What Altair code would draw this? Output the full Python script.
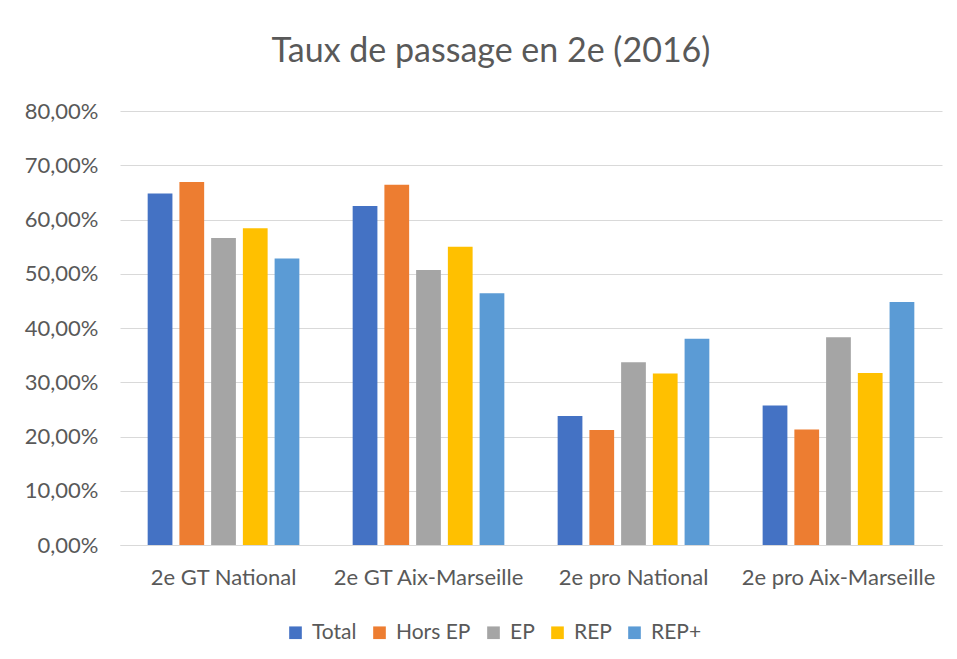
import altair as alt
import pandas as pd

groups = ["2e GT National", "2e GT Aix-Marseille", "2e pro National", "2e pro Aix-Marseille"]
series = ["Total", "Hors EP", "EP", "REP", "REP+"]
colors = ["#4472C4", "#ED7D31", "#A5A5A5", "#FFC000", "#5B9BD5"]

total = [0.648, 0.625, 0.238, 0.257]
hors_ep = [0.669, 0.664, 0.212, 0.213]
ep = [0.566, 0.507, 0.337, 0.383]
rep = [0.584, 0.550, 0.316, 0.317]
rep_plus = [0.528, 0.464, 0.380, 0.448]

rows = []
for s, vals in zip(series, [total, hors_ep, ep, rep, rep_plus]):
    for g, v in zip(groups, vals):
        rows.append({"groupe": g, "serie": s, "valeur": v})
df = pd.DataFrame(rows)

FONT = "Lato"
GREY_TEXT = "#595959"
GRID = "#d9d9d9"
FS = 21

chart = alt.Chart(df).mark_bar().encode(
    x=alt.X("groupe:N", sort=groups, title=None,
            scale=alt.Scale(paddingInner=0.26, paddingOuter=0.135),
            axis=alt.Axis(labelAngle=0, labelFontSize=22, labelColor=GREY_TEXT,
                          labelFont=FONT, ticks=False, domainColor=GRID,
                          labelPadding=22, labelLimit=400)),
    xOffset=alt.XOffset("serie:N", sort=series,
                        scale=alt.Scale(paddingInner=0.22)),
    y=alt.Y("valeur:Q", title=None,
            scale=alt.Scale(domain=[0, 0.8]),
            axis=alt.Axis(values=[0, 0.1, 0.2, 0.3, 0.4, 0.5, 0.6, 0.7, 0.8],
                          labelExpr="replace(format(datum.value, '.2%'), '.', ',')",
                          labelFontSize=22, labelColor=GREY_TEXT, labelFont=FONT,
                          ticks=False, domain=False, gridColor=GRID,
                          labelPadding=22)),
    color=alt.Color("serie:N", sort=series, title=None,
                    scale=alt.Scale(domain=series, range=colors),
                    legend=alt.Legend(orient="none", direction="horizontal",
                                      legendX=165, legendY=511,
                                      symbolType="square", symbolSize=160,
                                      symbolStrokeWidth=0,
                                      labelFontSize=FS, labelColor=GREY_TEXT,
                                      labelFont=FONT, columnPadding=12,
                                      labelOffset=6)),
).properties(
    width=822,
    height=434,
    title=alt.TitleParams("Taux de passage en 2e (2016)", fontSize=34,
                          font=FONT, fontWeight="normal", color=GREY_TEXT,
                          anchor="middle", dx=-40, dy=38, offset=42,
                          baseline="alphabetic"),
    autosize=alt.AutoSizeParams(type="none"),
    padding={"left": 112, "top": 103, "right": 7, "bottom": 106},
).configure(background="white").configure_view(stroke=None)

chart.save("out.html", embed_options={"renderer": "svg", "actions": False})
